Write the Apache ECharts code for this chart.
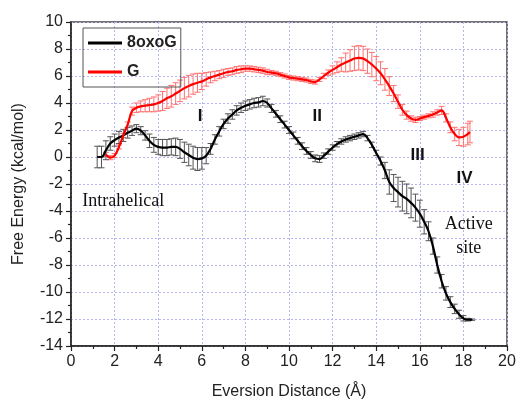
<!DOCTYPE html>
<html>
<head>
<meta charset="utf-8">
<script src="https://cdn.jsdelivr.net/npm/echarts@6/dist/echarts.min.js"></script>
<style>
  html, body { margin: 0; padding: 0; background: #fff; }
  #chart { width: 518px; height: 401px; }
</style>
</head>
<body>
<div id="chart"></div>
<script>
// 8oxoG free energy profile
const oxoX = [1.2, 1.4, 1.6, 1.8, 2.0, 2.2, 2.4, 2.6, 2.8, 3.0, 3.2, 3.4, 3.6, 3.8, 4.0, 4.2, 4.4, 4.6, 4.8, 5.0,
  5.2, 5.4, 5.6, 5.8, 6.0, 6.2, 6.4, 6.6, 6.8, 7.0, 7.2, 7.4, 7.6, 7.8, 8.0, 8.2, 8.4, 8.6, 8.8, 9.0,
  9.2, 9.4, 9.6, 9.8, 10.0, 10.2, 10.4, 10.6, 10.8, 11.0, 11.2, 11.4, 11.6, 11.8, 12.0, 12.2, 12.4, 12.6, 12.8, 13.0,
  13.2, 13.4, 13.6, 13.8, 14.0, 14.2, 14.4, 14.6, 14.8, 15.0, 15.2, 15.4, 15.6, 15.8, 16.0, 16.2, 16.4, 16.6, 16.8, 17.0,
  17.2, 17.4, 17.6, 17.8, 18.0, 18.2, 18.4];
const oxoY = [0.0, 0.0, 0.5, 1.0, 1.25, 1.45, 1.6, 1.8, 1.95, 2.1, 1.95, 1.6, 1.2, 0.9, 0.75, 0.7, 0.7, 0.75, 0.75, 0.6,
  0.35, 0.15, -0.05, -0.15, -0.1, 0.1, 0.6, 1.3, 1.9, 2.45, 2.85, 3.15, 3.45, 3.65, 3.8, 3.9, 4.0, 4.05, 4.15, 4.0,
  3.6, 3.2, 2.8, 2.4, 2.0, 1.6, 1.2, 0.8, 0.45, 0.15, -0.1, -0.15, 0.1, 0.4, 0.7, 0.95, 1.15, 1.3, 1.4, 1.5,
  1.6, 1.7, 1.4, 0.9, 0.3, -0.3, -1.0, -1.85, -2.3, -2.6, -2.9, -3.1, -3.4, -3.75, -4.2, -4.8, -5.5, -6.6, -8.0, -9.2,
  -10.1, -10.75, -11.25, -11.65, -11.95, -12.05, -12.05];
const oxoErr = [0.8, 0.8, 0.7, 0.5, 0.45, 0.45, 0.45, 0.4, 0.35, 0.3, 0.3, 0.35, 0.5, 0.55, 0.55, 0.6, 0.6, 0.6, 0.65, 0.7,
  0.75, 0.8, 0.85, 0.85, 0.8, 0.6, 0.4, 0.35, 0.35, 0.35, 0.35, 0.35, 0.35, 0.35, 0.35, 0.35, 0.35, 0.35, 0.35, 0.3,
  0.3, 0.25, 0.25, 0.25, 0.25, 0.25, 0.25, 0.25, 0.25, 0.25, 0.25, 0.25, 0.2, 0.2, 0.2, 0.2, 0.2, 0.2, 0.2, 0.2,
  0.2, 0.2, 0.2, 0.2, 0.2, 0.3, 0.6, 0.9, 1.0, 1.1, 1.1, 1.1, 1.1, 1.0, 1.0, 0.9, 0.7, 0.6, 0.6, 0.5,
  0.5, 0.4, 0.35, 0.3, 0.2, 0.1, 0.05];

// G free energy profile
const gX = [1.6, 1.8, 2.0, 2.2, 2.4, 2.6, 2.8, 3.0, 3.2, 3.4, 3.6, 3.8, 4.0, 4.2, 4.4, 4.6, 4.8, 5.0, 5.2, 5.4,
  5.6, 5.8, 6.0, 6.2, 6.4, 6.6, 6.8, 7.0, 7.2, 7.4, 7.6, 7.8, 8.0, 8.2, 8.4, 8.6, 8.8, 9.0, 9.2, 9.4,
  9.6, 9.8, 10.0, 10.2, 10.4, 10.6, 10.8, 11.0, 11.2, 11.4, 11.6, 11.8, 12.0, 12.2, 12.4, 12.6, 12.8, 13.0, 13.2, 13.4,
  13.6, 13.8, 14.0, 14.2, 14.4, 14.6, 14.8, 15.0, 15.2, 15.4, 15.6, 15.8, 16.0, 16.2, 16.4, 16.6, 16.8, 17.0, 17.2, 17.4,
  17.6, 17.8, 18.0, 18.2, 18.3];
const gY = [0.2, -0.05, 0.1, 0.75, 1.6, 2.4, 3.4, 3.65, 3.75, 3.8, 3.85, 3.9, 4.0, 4.15, 4.35, 4.5, 4.7, 4.9, 5.1, 5.25,
  5.4, 5.5, 5.6, 5.75, 5.9, 6.0, 6.1, 6.2, 6.3, 6.35, 6.45, 6.5, 6.55, 6.55, 6.5, 6.45, 6.4, 6.3, 6.25, 6.2,
  6.1, 6.0, 5.9, 5.85, 5.8, 5.75, 5.7, 5.6, 5.55, 5.75, 6.0, 6.25, 6.45, 6.65, 6.85, 7.0, 7.15, 7.3, 7.35, 7.3,
  7.1, 6.85, 6.55, 6.2, 5.75, 5.25, 4.7, 4.1, 3.5, 3.1, 2.85, 2.75, 2.85, 2.95, 3.05, 3.15, 3.3, 3.45, 2.9, 2.2,
  1.7, 1.45, 1.5, 1.7, 1.85];
const gErr = [0.15, 0.15, 0.15, 0.15, 0.15, 0.2, 0.3, 0.35, 0.4, 0.45, 0.5, 0.55, 0.6, 0.7, 0.75, 0.8, 0.8, 0.8, 0.8, 0.8,
  0.75, 0.7, 0.6, 0.5, 0.4, 0.35, 0.3, 0.3, 0.25, 0.25, 0.25, 0.25, 0.2, 0.2, 0.2, 0.2, 0.2, 0.2, 0.15, 0.15,
  0.15, 0.15, 0.15, 0.15, 0.15, 0.15, 0.15, 0.15, 0.15, 0.15, 0.2, 0.2, 0.3, 0.4, 0.5, 0.7, 0.8, 0.9, 0.9, 0.9,
  0.9, 0.9, 0.9, 0.85, 0.8, 0.7, 0.6, 0.5, 0.4, 0.3, 0.2, 0.2, 0.15, 0.15, 0.15, 0.2, 0.2, 0.3, 0.3, 0.4,
  0.5, 0.6, 0.7, 0.8, 0.8];

// annotations in data coordinates
const romanLabels = [['I', 5.92, 3.0], ['II', 11.3, 3.05], ['III', 15.9, 0.1], ['IV', 18.05, -1.6]];
const serifLabels = [['Intrahelical', 2.4, -3.25], ['Active\nsite', 18.25, -5.85]];

const toPairs = (xs, ys) => xs.map((x, i) => [x, ys[i]]);
const toErr = (xs, ys, es) => xs.map((x, i) => [x, ys[i] - es[i], ys[i] + es[i]]);

function errorBars(color) {
  return function (params, api) {
    const lo = api.coord([api.value(0), api.value(1)]);
    const hi = api.coord([api.value(0), api.value(2)]);
    const w = 3;
    const style = { stroke: color, lineWidth: 1 };
    return {
      type: 'group',
      children: [
        { type: 'line', shape: { x1: lo[0], y1: lo[1], x2: hi[0], y2: hi[1] }, style: style },
        { type: 'line', shape: { x1: lo[0] - w, y1: lo[1], x2: lo[0] + w, y2: lo[1] }, style: style },
        { type: 'line', shape: { x1: hi[0] - w, y1: hi[1], x2: hi[0] + w, y2: hi[1] }, style: style }
      ]
    };
  };
}

const chart = echarts.init(document.getElementById('chart'));

const axisCommon = {
  type: 'value',
  interval: 2,
  axisLine: { show: true, onZero: false, lineStyle: { color: '#222', width: 1.5 } },
  axisTick: { show: true, length: 5, lineStyle: { color: '#222', width: 1.2 } },
  minorTick: { show: true, splitNumber: 2, length: 3, lineStyle: { color: '#222', width: 1.2 } },
  axisLabel: { color: '#222', fontSize: 16, fontFamily: 'Liberation Sans, Arial', margin: 8 },
  splitLine: { show: true, lineStyle: { color: '#b4b4f0', type: [2, 2], width: 1 } },
  nameLocation: 'middle',
  nameTextStyle: { color: '#222', fontSize: 16, fontFamily: 'Liberation Sans, Arial' }
};

const option = {
  animation: false,
  backgroundColor: '#fff',
  grid: {
    left: 71, right: 11, top: 22, bottom: 55,
    outerBoundsMode: 'none', containLabel: false,
    show: true, borderColor: '#444', borderWidth: 1.5
  },
  legend: {
    data: ['8oxoG', 'G'],
    orient: 'vertical',
    left: 83,
    top: 28,
    icon: 'rect',
    itemWidth: 34,
    itemHeight: 3,
    itemGap: 13,
    padding: [7, 4, 7, 5],
    borderColor: '#555',
    borderWidth: 1,
    textStyle: { fontSize: 16, fontWeight: 'bold', color: '#222', fontFamily: 'Liberation Sans, Arial' }
  },
  xAxis: Object.assign({}, axisCommon, {
    min: 0, max: 20,
    name: 'Eversion Distance (Å)',
    nameGap: 38
  }),
  yAxis: Object.assign({}, axisCommon, {
    min: -14, max: 10,
    name: 'Free Energy (kcal/mol)',
    nameGap: 44
  }),
  series: [
    {
      name: 'G err', type: 'custom', renderItem: errorBars('#ff7070'),
      encode: { x: 0, y: [1, 2] }, data: toErr(gX, gY, gErr), z: 2
    },
    {
      name: '8oxoG err', type: 'custom', renderItem: errorBars('#555'),
      encode: { x: 0, y: [1, 2] }, data: toErr(oxoX, oxoY, oxoErr), z: 2
    },
    {
      name: '8oxoG', type: 'line', smooth: 0.4, symbol: 'none',
      lineStyle: { color: '#000', width: 2.2 }, itemStyle: { color: '#000' },
      data: toPairs(oxoX, oxoY), z: 4
    },
    {
      name: 'G', type: 'line', smooth: 0.4, symbol: 'none',
      lineStyle: { color: '#ff0000', width: 2.2 }, itemStyle: { color: '#ff0000' },
      data: toPairs(gX, gY), z: 4
    },
    {
      name: 'roman', type: 'scatter', symbolSize: 0, silent: true, z: 5,
      itemStyle: { opacity: 1 },
      data: romanLabels.map(d => ({ value: [d[1], d[2]], name: d[0] })),
      label: {
        show: true, position: 'inside', formatter: p => p.name,
        fontSize: 17, fontWeight: 'bold', color: '#111', fontFamily: 'Liberation Sans, Arial'
      }
    },
    {
      name: 'notes', type: 'scatter', symbolSize: 0, silent: true, z: 5,
      itemStyle: { opacity: 1 },
      data: serifLabels.map(d => ({ value: [d[1], d[2]], name: d[0] })),
      label: {
        show: true, position: 'inside', formatter: p => p.name, align: 'center',
        fontSize: 18, lineHeight: 24, color: '#111', fontFamily: 'Liberation Serif, Times New Roman'
      }
    }
  ]
};

chart.setOption(option);
</script>
</body>
</html>
